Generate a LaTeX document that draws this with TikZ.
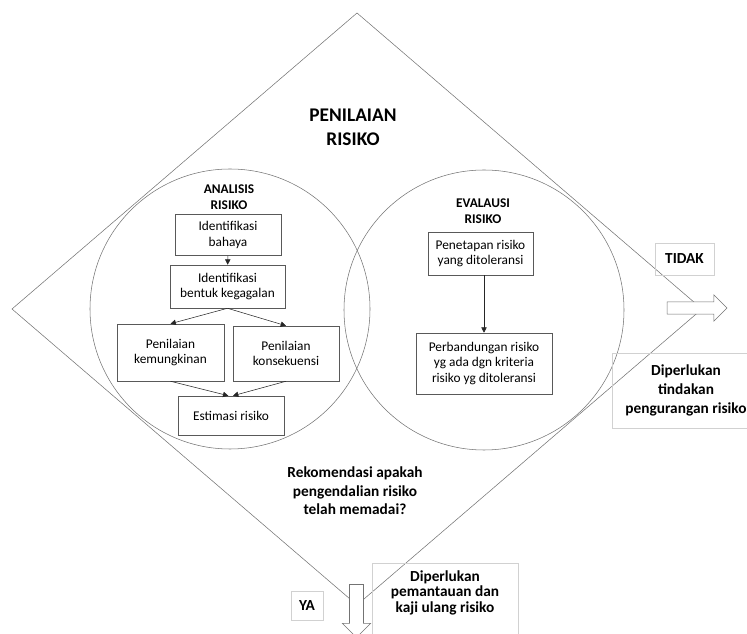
\documentclass[tikz,border=0pt]{standalone}
\usepackage{fontspec}
\setmainfont{Carlito}
\usetikzlibrary{shapes.arrows, arrows.meta}
\tikzset{
    box/.style={draw=black!65, rectangle, align=center, inner sep=2pt, font=\fontsize{10}{11.7}\selectfont},
    tag/.style={draw=black!18, rectangle, align=center, inner sep=2pt, font=\bfseries\fontsize{11.5}{14}\selectfont},
    head/.style={align=center, inner sep=1pt, font=\bfseries\fontsize{10}{12}\selectfont},
    note/.style={align=center, inner sep=1pt, font=\bfseries\fontsize{11.5}{13.9}\selectfont},
    zone/.style={draw=black!55, circle, minimum size=210pt, inner sep=0pt},
    arrow/.style={-{Triangle[length=4pt, width=4pt]}, black!85},
    fat/.style={draw=black!55, fill=white, single arrow, single arrow head extend=5.4pt, inner xsep=0pt}
}

\begin{document}
\begin{tikzpicture}[x=0.75pt, y=-0.75pt]
\useasboundingbox (0,0) rectangle (747,634);
% outer diamond
\coordinate (top) at (357,13);
\coordinate (right) at (702,309);
\coordinate (bottom) at (357,605);
\coordinate (left) at (12,309);
\draw[black!55] (top) -- (right) -- (bottom) -- (left) -- cycle;
\node[head, font=\bfseries\fontsize{14.5}{18}\selectfont] (judul) at (353,127) {PENILAIAN\\RISIKO};
% the two circles
\node[zone] (analisis) at (230,309) {};
\node[zone] (evaluasi) at (484,310) {};
\node[head] (analisisjudul) at (229,197) {ANALISIS\\RISIKO};
\node[head] (evaluasijudul) at (483,211) {EVALAUSI\\RISIKO};
% analisis risiko
\node[box, minimum width=79.5pt, minimum height=30.75pt] (bahaya) at (228,235) {Identifikasi\\bahaya};
\node[box, minimum width=86.25pt, minimum height=32.25pt] (kegagalan) at (227.5,286.5) {Identifikasi\\bentuk kegagalan};
\node[box, minimum width=80.25pt, minimum height=42.75pt] (kemungkinan) at (170.5,352.5) {Penilaian\\kemungkinan};
\node[box, minimum width=79.5pt, minimum height=41.25pt] (konsekuensi) at (286,353.5) {Penilaian\\konsekuensi};
\node[box, minimum width=79.5pt, minimum height=29.25pt] (estimasi) at (231,415.5) {Estimasi risiko};
\draw[arrow] (bahaya) -- (kegagalan);
\draw[arrow] (kegagalan.south) -- (kemungkinan.north);
\draw[arrow] (kegagalan.south) -- (konsekuensi.north);
\draw[arrow] (kemungkinan.south) -- ([xshift=-2pt]estimasi.north);
\draw[arrow] (konsekuensi.south) -- ([xshift=1.5pt]estimasi.north);
% evaluasi risiko
\node[box, minimum width=78.75pt, minimum height=32.25pt] (penetapan) at (480.5,253.5) {Penetapan risiko\\yang ditoleransi};
\node[box, minimum width=102pt, minimum height=45.75pt] (perbandungan) at (484,363.5) {Perbandungan risiko\\yg ada dgn kriteria\\risiko yg ditoleransi};
\draw[arrow] (penetapan.south -| perbandungan.north) -- (perbandungan.north);
\node[note] (rekomendasi) at (355,491) {Rekomendasi apakah\\pengendalian risiko\\telah memadai?};
% keluaran
\node[tag, minimum width=44.25pt, minimum height=24pt] (tidak) at (684.5,259) {TIDAK};
\node[tag, font=\bfseries\fontsize{11.5}{14.3}\selectfont, minimum width=111pt, minimum height=56.25pt] (tindakan) at (686,390.5) {Diperlukan\\tindakan\\pengurangan risiko};
\node[tag, minimum width=24pt, minimum height=21.75pt] (ya) at (307,605.5) {YA};
\node[tag, minimum width=109.5pt, minimum height=60pt, anchor=north] (pantaubox) at (445,563) {};
\node[note, font=\bfseries\fontsize{11.5}{11.6}\selectfont] (pantau) at (445,592.5) {Diperlukan\\pemantauan dan\\kaji ulang risiko};
\node[fat, inner ysep=4.35pt, minimum height=45pt] (tidakpanah) at (694,308) {};
\node[fat, inner ysep=5.05pt, rotate=-90, minimum height=39.75pt] (yapanah) at (356.5,607.5) {};
\end{tikzpicture}
\end{document}
